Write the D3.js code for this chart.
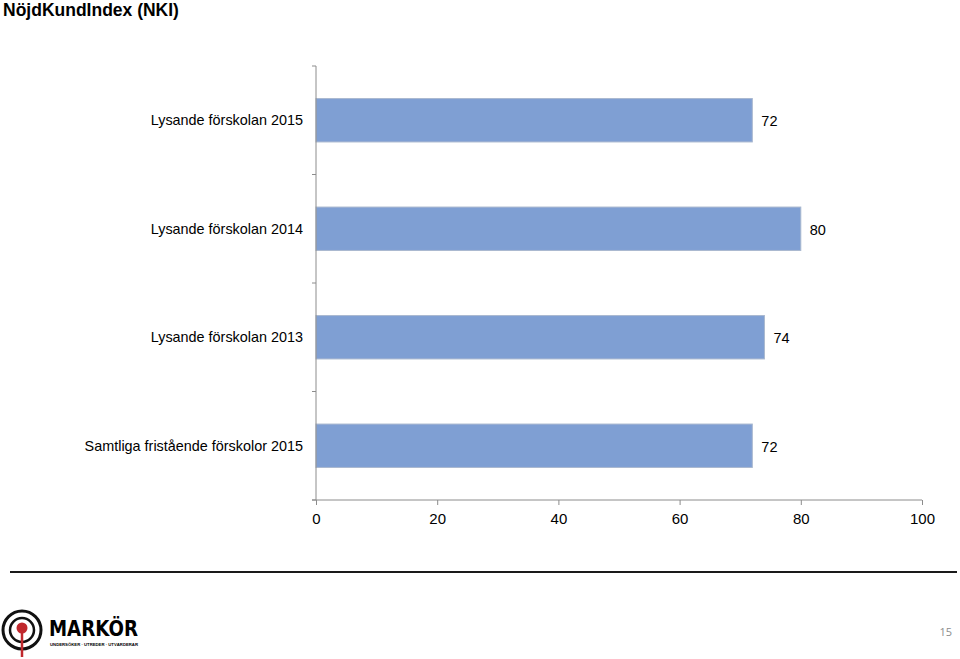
<!DOCTYPE html>
<html>
<head>
<meta charset="utf-8">
<script src="https://cdn.jsdelivr.net/npm/d3@7"></script>
<style>
  body { margin: 0; background: #fff; }
  svg { display: block; font-family: 'Liberation Sans', Arial, sans-serif; }
</style>
</head>
<body>
<div id="chart"></div>
<script>
const categories = [
  'Lysande förskolan 2015',
  'Lysande förskolan 2014',
  'Lysande förskolan 2013',
  'Samtliga fristående förskolor 2015'
]
const values = [72, 80, 74, 72]
const xTicks = [0, 20, 40, 60, 80, 100]

const width = 960
const height = 659
const margin = { top: 66, right: 38, bottom: 159, left: 316 }

const svg = d3.select('#chart')
  .append('svg')
  .attr('width', width)
  .attr('height', height)

// title
svg.append('text')
  .attr('x', 3)
  .attr('y', 16)
  .style('font-size', '17.5px')
  .style('font-weight', 'bold')
  .text('NöjdKundIndex (NKI)')

const xScale = d3.scaleLinear()
  .domain([0, 100])
  .range([margin.left, width - margin.right])

const yScale = d3.scaleBand()
  .domain(categories)
  .range([margin.top, height - margin.bottom])
  .paddingInner(0.6)
  .paddingOuter(0.3)

const axisColor = '#8c8c8c'

// bars
svg.selectAll('.bar')
  .data(categories)
  .join('rect')
  .attr('class', 'bar')
  .attr('x', xScale(0))
  .attr('y', (d) => yScale(d))
  .attr('width', (d, i) => xScale(values[i]) - xScale(0))
  .attr('height', yScale.bandwidth())
  .attr('fill', '#7f9fd3')
  .attr('stroke', '#a9b8cf')
  .attr('stroke-width', 1)

// value labels
svg.selectAll('.val')
  .data(categories)
  .join('text')
  .attr('class', 'val')
  .attr('x', (d, i) => xScale(values[i]) + 9)
  .attr('y', (d) => yScale(d) + yScale.bandwidth() / 2 + 6)
  .style('font-size', '14.5px')
  .text((d, i) => values[i])

// category labels
svg.selectAll('.cat')
  .data(categories)
  .join('text')
  .attr('class', 'cat')
  .attr('x', margin.left - 13)
  .attr('y', (d) => yScale(d) + yScale.bandwidth() / 2 + 5)
  .attr('text-anchor', 'end')
  .style('font-size', '14.4px')
  .text((d) => d)

// left axis: line + ticks at band boundaries
const yTop = margin.top
const yBottom = height - margin.bottom
const boundaries = d3.range(categories.length + 1).map((i) => yTop + i * (yBottom - yTop) / categories.length)

const yAxisG = svg.append('g')
yAxisG.append('line')
  .attr('x1', xScale(0)).attr('x2', xScale(0))
  .attr('y1', yTop).attr('y2', yBottom)
  .attr('stroke', axisColor)
yAxisG.selectAll('.ytick')
  .data(boundaries)
  .join('line')
  .attr('class', 'ytick')
  .attr('x1', xScale(0) - 4).attr('x2', xScale(0))
  .attr('y1', (d) => d).attr('y2', (d) => d)
  .attr('stroke', axisColor)

// bottom axis
svg.append('g')
  .attr('transform', `translate(0, ${yBottom})`)
  .call(d3.axisBottom(xScale).tickValues(xTicks).tickSize(5).tickSizeOuter(0).tickPadding(8))
  .call((g) => g.select('.domain').attr('stroke', axisColor).attr('d', `M${xScale(0) - 4},0H${xScale(100)}`))
  .call((g) => g.selectAll('.tick>line').attr('stroke', axisColor))
  .call((g) => g.selectAll('.tick>text')
    .style('font-family', "'Liberation Sans', Arial, sans-serif")
    .style('font-size', '15px')
    .attr('fill', '#000'))

// separator line
svg.append('line')
  .attr('x1', 10).attr('x2', 957)
  .attr('y1', 572).attr('y2', 572)
  .attr('stroke', '#1a1a1a')
  .attr('stroke-width', 2)

// logo
const logo = svg.append('g').attr('transform', 'translate(22, 630)')
logo.append('circle').attr('r', 19).attr('fill', 'none').attr('stroke', '#111').attr('stroke-width', 3)
logo.append('circle').attr('r', 12).attr('fill', 'none').attr('stroke', '#111').attr('stroke-width', 2.5)
logo.append('line').attr('x1', 0).attr('x2', 0).attr('y1', 0).attr('y2', 27)
  .attr('stroke', '#c0282d').attr('stroke-width', 2.5)
logo.append('circle').attr('cy', -2).attr('r', 5.5).attr('fill', '#c0282d')
logo.append('text')
  .attr('x', 27).attr('y', 6)
  .style('font-size', '21px')
  .style('font-weight', 'bold')
  .style('font-family', "'DejaVu Sans', sans-serif")
  .attr('textLength', 89)
  .attr('lengthAdjust', 'spacingAndGlyphs')
  .text('MARKÖR')
logo.append('text')
  .attr('x', 28).attr('y', 16)
  .style('font-size', '4px')
  .style('font-weight', 'bold')
  .attr('textLength', 88)
  .attr('lengthAdjust', 'spacingAndGlyphs')
  .text('UNDERSÖKER · UTREDER · UTVÄRDERAR')

// page number
svg.append('text')
  .attr('x', 952).attr('y', 636)
  .attr('text-anchor', 'end')
  .style('font-size', '11px')
  .style('font-family', "'Open Sans', sans-serif")
  .attr('fill', '#8c8c8c')
  .text('15')
</script>
</body>
</html>
